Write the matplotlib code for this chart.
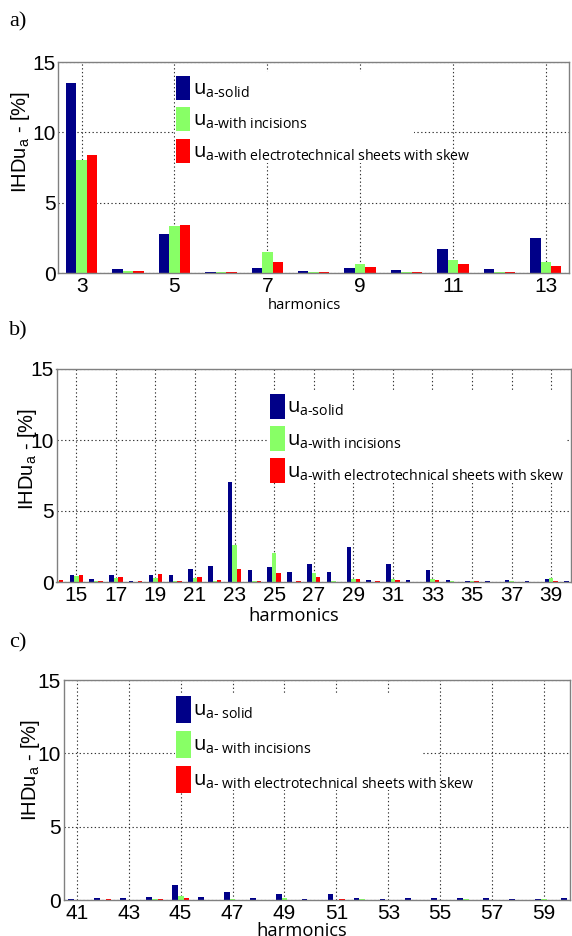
import numpy as np
import matplotlib
matplotlib.use("Agg")
import matplotlib.pyplot as plt
from matplotlib.patches import Rectangle

plt.rcParams['font.family'] = ['Liberation Sans', 'DejaVu Sans']
plt.rcParams['mathtext.fontset'] = 'custom'
plt.rcParams['mathtext.rm'] = 'Open Sans'
plt.rcParams['mathtext.default'] = 'regular'

# harmonic orders and IHD values [%]
harm_a = list(range(3, 14))
solid_a = [13.5, 0.25, 2.74, 0.07, 0.35, 0.15, 0.35, 0.18, 1.70, 0.30, 2.46]
incis_a = [8.04, 0.15, 3.36, 0.05, 1.50, 0.05, 0.66, 0.08, 0.90, 0.04, 0.76]
skew_a = [8.40, 0.15, 3.40, 0.10, 0.76, 0.10, 0.40, 0.06, 0.61, 0.10, 0.47]

harm_b = list(range(14, 41))
solid_b = [0.10, 0.50, 0.20, 0.50, 0.05, 0.50, 0.47, 0.90, 1.10, 7.05, 0.82, 1.09, 0.72, 1.30,
           0.70, 2.49, 0.13, 1.25, 0.15, 0.87, 0.15, 0.10, 0.10, 0.13, 0.06, 0.18, 0.10]
incis_b = [0.05, 0.40, 0.05, 0.25, 0.02, 0.30, 0.05, 0.28, 0.05, 2.58, 0.10, 2.05, 0.02, 0.60,
           0.08, 0.23, 0.03, 0.23, 0.02, 0.22, 0.05, 0.04, 0.03, 0.05, 0.02, 0.25, 0.03]
skew_b = [0.12, 0.47, 0.10, 0.35, 0.10, 0.55, 0.05, 0.37, 0.14, 0.95, 0.10, 0.65, 0.05, 0.37,
          0.03, 0.18, 0.04, 0.13, 0.03, 0.13, 0.03, 0.04, 0.02, 0.03, 0.03, 0.05, 0.03]

harm_c = list(range(41, 61))
solid_c = [0.07, 0.14, 0.14, 0.18, 1.00, 0.23, 0.52, 0.14, 0.43, 0.07,
           0.39, 0.14, 0.07, 0.11, 0.11, 0.14, 0.11, 0.07, 0.07, 0.11]
incis_c = [0.03, 0.03, 0.03, 0.05, 0.30, 0.03, 0.07, 0.03, 0.14, 0.03,
           0.03, 0.05, 0.03, 0.02, 0.03, 0.05, 0.03, 0.02, 0.05, 0.03]
skew_c = [0.03, 0.07, 0.03, 0.07, 0.11, 0.03, 0.03, 0.02, 0.03, 0.02,
          0.07, 0.02, 0.03, 0.03, 0.02, 0.03, 0.02, 0.03, 0.02, 0.02]

labels_ab = [r"u$_{\text{a-solid}}$",
             r"u$_{\text{a-with incisions}}$",
             r"u$_{\text{a-with electrotechnical sheets with skew}}$"]
labels_c = [r"u$_{\text{a- solid}}$",
            r"u$_{\text{a- with incisions}}$",
            r"u$_{\text{a- with electrotechnical sheets with skew}}$"]

colors = ['#000088', '#88ff66', '#ff0000']
W, H = 572, 936
LEG_FS = 14.5


def panel(rect, harm, series, labels, xlim, box, anchor, ylab_xy, xlab_xy, xlab_size, hh, lsp):
    l, t, r, b = rect
    ax = fig.add_axes([l / W, 1 - b / H, (r - l) / W, (b - t) / H])
    x = np.array(harm)
    for k, vals in enumerate(series):
        ax.bar(x + (k - 1) * 0.225, vals, width=0.225, color=colors[k], linewidth=0,
               zorder=2, label=labels[k])
    ax.set_xlim(*xlim)
    ax.set_ylim(0, 15)
    ax.set_xticks([h for h in harm if h % 2 == 1])
    ax.set_yticks([0, 5, 10, 15])
    ax.grid(True, linestyle=(0, (1.2, 2.2)), color='#333333', linewidth=0.8)
    ax.set_axisbelow(True)
    for s in ax.spines.values():
        s.set_color('#808080')
        s.set_linewidth(1.0)
    ax.tick_params(length=0, labelsize=15)
    ax.tick_params(axis='x', pad=3)
    ax.tick_params(axis='y', pad=2)

    # white area behind the legend, hides grid lines
    ax.add_patch(Rectangle((box[0], box[1]), box[2] - box[0], box[3] - box[1],
                           transform=ax.transAxes, facecolor='white', edgecolor='none', zorder=1.5))
    ax.legend(loc='upper left', bbox_to_anchor=anchor, frameon=False,
              prop=dict(family='Open Sans', size=LEG_FS), handlelength=0.72, handleheight=hh,
              handletextpad=0.12, labelspacing=lsp, borderpad=0, borderaxespad=0)

    ax.set_ylabel(r"IHDu$_a$ - [%]", fontsize=14.5)
    ax.yaxis.set_label_coords(*ylab_xy)
    ax.set_xlabel("harmonics", family='Open Sans', fontsize=xlab_size, va='top')
    ax.xaxis.set_label_coords(*xlab_xy)
    return ax


fig = plt.figure(figsize=(W / 100, H / 100), dpi=100)

panel((58.4, 62, 569, 273), harm_a, [solid_a, incis_a, skew_a], labels_ab, (2.5, 13.5),
      (0.228, 0.521, 0.696, 0.953), (0.230, 0.934), (-0.052, 0.62), (0.482, -0.118), 10.7, 1.46, 0.36)
panel((56.5, 369, 571, 582), harm_b, [solid_b, incis_b, skew_b], labels_ab, (14.0, 40.0),
      (0.411, 0.465, 0.992, 0.892), (0.415, 0.883), (-0.034, 0.577), (0.462, -0.117), 13.2, 1.53, 0.36)
panel((63.8, 680, 570, 900), harm_c, [solid_c, incis_c, skew_c], labels_c, (40.5, 60.0),
      (0.220, 0.500, 0.710, 0.932), (0.222, 0.927), (-0.043, 0.59), (0.47, -0.099), 13.2, 1.65, 0.42)

for lab, y in [("a)", 12), ("b)", 321), ("c)", 633)]:
    fig.text(9 / W, 1 - y / H, lab, family='Liberation Serif', fontsize=16, va='top', ha='left')

fig.savefig("out.png", dpi=100)
